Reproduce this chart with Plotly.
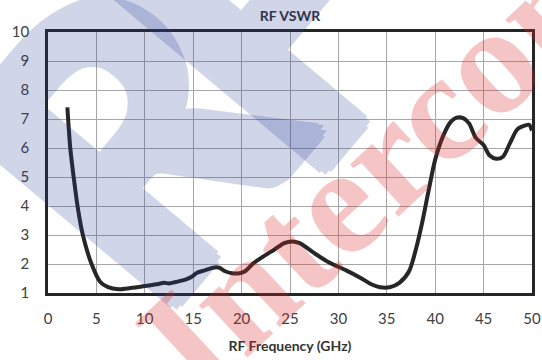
import plotly.graph_objects as go

# RF VSWR sweep (frequency in GHz, VSWR ratio)
freq_ghz = [2.0, 2.3, 2.65, 3.05, 3.6, 4.5, 5.4, 6.2, 7.3, 8.5, 10.0, 11.2, 12.0, 12.5,
            13.2, 14.2, 14.8, 15.4, 16.2, 17.2, 17.7, 18.3, 19.0, 19.8, 20.4, 21.2,
            22.2, 23.4, 24.4, 25.2, 26.0, 27.4, 29.0, 30.8, 32.3, 33.4, 34.3, 35.3,
            36.3, 37.3, 38.0, 38.7, 39.3, 40.0, 40.8, 41.6, 42.2, 42.9, 43.5, 44.2,
            45.0, 45.6, 46.3, 47.0, 47.7, 48.5, 49.3, 49.7, 50.0]
vswr = [7.40, 6.0, 5.0, 4.0, 3.0, 2.0, 1.38, 1.2, 1.13, 1.17, 1.24, 1.3, 1.35, 1.33,
        1.38, 1.46, 1.55, 1.7, 1.78, 1.88, 1.87, 1.75, 1.68, 1.68, 1.76, 2.02,
        2.25, 2.5, 2.72, 2.78, 2.72, 2.4, 2.06, 1.78, 1.52, 1.3, 1.2, 1.2,
        1.35, 1.75, 2.5, 3.5, 4.5, 5.6, 6.4, 6.9, 7.05, 7.03, 6.85, 6.35,
        6.1, 5.75, 5.63, 5.7, 6.15, 6.65, 6.78, 6.8, 6.6]

x_ticks = list(range(0, 51, 5))
y_ticks = list(range(1, 11))

chart_title = "RF VSWR"
x_title = "RF Frequency (GHz)"

W, H = 542, 360
M = dict(l=48, r=10, t=32, b=67, autoexpand=False)


def paper(px, py):
    """Convert a pixel position on the page to paper coordinates."""
    return ((px - M["l"]) / (W - M["l"] - M["r"]),
            (H - M["b"] - py) / (H - M["t"] - M["b"]))


def fat(color, r):
    """CSS text-shadow ring that thickens a glyph by about r pixels."""
    pts = [(r, 0), (-r, 0), (0, r), (0, -r),
           (0.7 * r, 0.7 * r), (-0.7 * r, 0.7 * r), (0.7 * r, -0.7 * r), (-0.7 * r, -0.7 * r)]
    return ", ".join(f"{dx:.1f}px {dy:.1f}px 0 {color}" for dx, dy in pts)


fig = go.Figure()
fig.add_trace(go.Scatter(
    x=freq_ghz, y=vswr, mode="lines",
    line=dict(color="#262626", width=4, shape="spline", smoothing=0.8),
    hoverinfo="skip", showlegend=False,
))

axis_font = dict(family="Lato, sans-serif", size=15, color="#404040")
common = dict(showgrid=True, gridcolor="#a6a6a6", gridwidth=1.3,
              showline=True, linecolor="#262626", linewidth=2.6, mirror=True,
              zeroline=False, ticks="", tickfont=axis_font, automargin=False)

fig.update_xaxes(range=[0, 50], tickvals=x_ticks, ticklabelstandoff=10,
                 title=dict(text=f"<b>{x_title}</b>", standoff=16,
                            font=dict(family="Lato, sans-serif", size=14, color="#333333")),
                 **common)
fig.update_yaxes(range=[1, 10], tickvals=y_ticks, ticklabelstandoff=13, **common)

# Faint company mark behind the curve
blue = "rgb(40,60,150)"
red = "rgb(220,40,40)"
wm = []
rx, ry = paper(124, 132)
wm.append(dict(text="R", x=rx, y=ry, textangle=-50, opacity=0.21,
               font=dict(family="Lato", size=385, weight=900, color=blue, shadow=fat(blue, 8))))
fx, fy = paper(262, 10)
wm.append(dict(text="F", x=fx, y=fy, textangle=-50, opacity=0.21,
               font=dict(family="Lato", size=385, weight=900, color=blue, shadow=fat(blue, 8))))
ix, iy = paper(371, 171)
wm.append(dict(text="Intercon", x=ix, y=iy, textangle=-43, opacity=0.27,
               font=dict(family="Liberation Serif", size=155, weight="bold", color=red)))
for a in wm:
    fig.add_annotation(xref="paper", yref="paper", xanchor="center", yanchor="middle",
                       showarrow=False, **a)

fig.update_layout(
    width=W, height=H, margin=M,
    paper_bgcolor="white", plot_bgcolor="white",
    title=dict(text=f"<b>{chart_title}</b>", x=0.5, xref="paper", y=1 - 16 / H,
               yanchor="middle", xanchor="center",
               font=dict(family="Lato, sans-serif", size=14, color="#333333")),
)

fig.write_html("out.html")
